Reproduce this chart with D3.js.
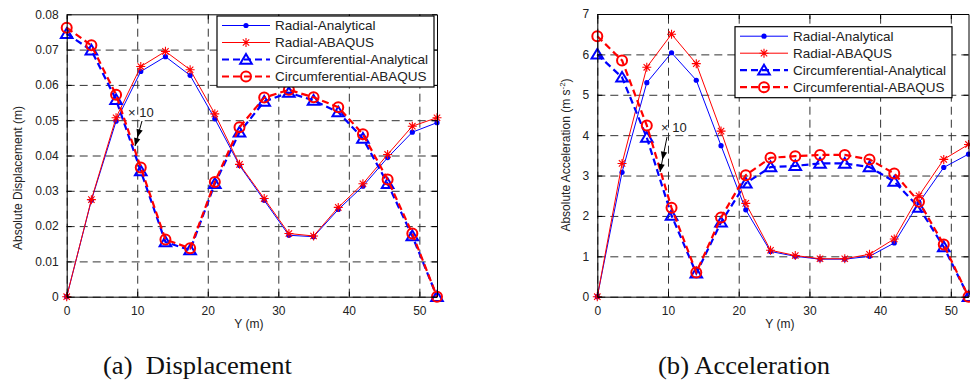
<!DOCTYPE html>
<html>
<head>
<meta charset="utf-8">
<script src="https://cdn.jsdelivr.net/npm/d3@7"></script>
<style>
  body { margin: 0; background: #fff; }
  text { font-family: "Liberation Sans", Arial, sans-serif; }
  text.caption { font-family: "Liberation Serif", "Times New Roman", serif; }
</style>
</head>
<body>
<div id="chart"></div>
<script>
// Y (m) positions, shared by both panels
let yPos = [0, 3.5, 7, 10.5, 14, 17.5, 21, 24.5, 28, 31.5, 35, 38.5, 42, 45.5, 49, 52.5];
let xTicks = [0, 10, 20, 30, 40, 50];

// (a) displacement (m)
let dispRadAna = [0, 0.0273, 0.0497, 0.0638, 0.0680, 0.0627, 0.0504, 0.0372, 0.0273, 0.0174, 0.0170, 0.0247, 0.0313, 0.0394, 0.0466, 0.0493];
let dispRadAbq = [0, 0.0275, 0.0507, 0.0652, 0.0695, 0.0643, 0.0518, 0.0375, 0.0278, 0.0179, 0.0172, 0.0253, 0.0320, 0.0403, 0.0483, 0.0507];
let dispCirAna = [0.0745, 0.0698, 0.0558, 0.0356, 0.0155, 0.0132, 0.0320, 0.0466, 0.0553, 0.0578, 0.0556, 0.0523, 0.0448, 0.0320, 0.0172, 0];
let dispCirAbq = [0.0762, 0.0712, 0.0572, 0.0366, 0.0162, 0.0137, 0.0325, 0.0480, 0.0564, 0.0586, 0.0565, 0.0537, 0.0460, 0.0332, 0.0179, 0];
let dispTicks = [0, 0.01, 0.02, 0.03, 0.04, 0.05, 0.06, 0.07, 0.08];

// (b) acceleration (m s^-2)
let accRadAna = [0, 3.08, 5.30, 6.04, 5.36, 3.74, 2.15, 1.12, 1.00, 0.93, 0.93, 1.00, 1.33, 2.33, 3.20, 3.53];
let accRadAbq = [0, 3.30, 5.68, 6.50, 5.77, 4.10, 2.31, 1.15, 1.02, 0.94, 0.94, 1.05, 1.43, 2.50, 3.40, 3.77];
let accCirAna = [6.00, 5.43, 3.94, 2.01, 0.58, 1.84, 2.81, 3.21, 3.24, 3.30, 3.30, 3.21, 2.85, 2.21, 1.23, 0];
let accCirAbq = [6.45, 5.85, 4.24, 2.20, 0.60, 1.96, 3.01, 3.44, 3.48, 3.51, 3.51, 3.40, 3.05, 2.35, 1.29, 0];
let accTicks = [0, 1, 2, 3, 4, 5, 6, 7];

let seriesNames = ["Radial-Analytical", "Radial-ABAQUS", "Circumferential-Analytical", "Circumferential-ABAQUS"];
let seriesColors = ["#0000ff", "#ff0000", "#0000ff", "#ff0000"];
let seriesMarkers = ["dot", "star", "triangle", "circle"];

let width = 970, height = 381;

let svg = d3.select("#chart")
    .append("svg")
    .attr("width", width)
    .attr("height", height);

function markerPath(type) {
    if (type == "star") {
        let r = 4.5, d = 3.2;
        return "M0," + (-r) + "V" + r + "M" + (-r) + ",0H" + r +
            "M" + (-d) + "," + (-d) + "L" + d + "," + d + "M" + (-d) + "," + d + "L" + d + "," + (-d);
    }
    if (type == "triangle") return "M0,-5.5L5.8,4.2L-5.8,4.2Z";
    return null;
}

function drawMarker(g, type, color, cx, cy) {
    if (type == "dot") {
        g.append("circle").attr("cx", cx).attr("cy", cy).attr("r", 2.6).attr("fill", color);
    } else if (type == "circle") {
        g.append("circle").attr("cx", cx).attr("cy", cy).attr("r", 5)
            .attr("fill", "none").attr("stroke", color).attr("stroke-width", 2);
    } else {
        g.append("path").attr("d", markerPath(type))
            .attr("transform", "translate(" + cx + "," + cy + ")")
            .attr("fill", "none").attr("stroke", color)
            .attr("stroke-width", type == "triangle" ? 2 : 1.1);
    }
}

function drawPanel(p) {
    let x = d3.scaleLinear().domain([0, 52.5]).range([p.left, p.right]);
    let y = d3.scaleLinear().domain(p.yDomain).range([p.bottom, p.top]);
    let w = p.right - p.left, h = p.bottom - p.top;

    // grid
    svg.append("g")
        .attr("transform", "translate(0," + p.bottom + ")")
        .call(d3.axisBottom(x).tickValues(xTicks).tickSize(-h).tickFormat(""))
        .call(g => g.select(".domain").remove())
        .selectAll("line").attr("stroke", "#333").attr("stroke-dasharray", "8,5");
    svg.append("g")
        .attr("transform", "translate(" + p.left + ",0)")
        .call(d3.axisLeft(y).tickValues(p.yTicks.slice(0, -1)).tickSize(-w).tickFormat(""))
        .call(g => g.select(".domain").remove())
        .selectAll("line").attr("stroke", "#333").attr("stroke-dasharray", "8,5");

    // series
    let lists = p.series;
    for (let s = 0; s < lists.length; s++) {
        let data = yPos.map((v, i) => [v, lists[s][i]]);
        let line = d3.line().x(d => x(d[0])).y(d => y(d[1]));
        let path = svg.append("path")
            .datum(data)
            .attr("d", line)
            .attr("fill", "none")
            .attr("stroke", seriesColors[s])
            .attr("stroke-width", s < 2 ? 1 : 2.2);
        if (s >= 2) path.attr("stroke-dasharray", "7,4");
        let mg = svg.append("g");
        data.forEach(d => drawMarker(mg, seriesMarkers[s], seriesColors[s], x(d[0]), y(d[1])));
    }

    // axes with inward ticks on all four sides
    let tickStyle = g => {
        g.selectAll("path.domain").attr("stroke", "#000");
        g.selectAll(".tick line").attr("stroke", "#000");
        g.selectAll("text").attr("font-size", 12).attr("fill", "#222")
            .style("font-family", "'Liberation Sans', Arial, sans-serif");
    };
    svg.append("g").attr("transform", "translate(0," + p.bottom + ")")
        .call(d3.axisBottom(x).tickValues(xTicks).tickSize(-5).tickPadding(10).tickSizeOuter(0))
        .call(tickStyle);
    svg.append("g").attr("transform", "translate(0," + p.top + ")")
        .call(d3.axisTop(x).tickValues(xTicks).tickSize(-5).tickFormat("").tickSizeOuter(0))
        .call(tickStyle);
    svg.append("g").attr("transform", "translate(" + p.left + ",0)")
        .call(d3.axisLeft(y).tickValues(p.yTicks).tickSize(-5).tickPadding(8).tickSizeOuter(0).tickFormat(p.fmt))
        .call(tickStyle);
    svg.append("g").attr("transform", "translate(" + p.right + ",0)")
        .call(d3.axisRight(y).tickValues(p.yTicks).tickSize(-5).tickFormat("").tickSizeOuter(0))
        .call(tickStyle);

    // x label
    svg.append("text")
        .attr("x", (p.left + p.right) / 2 - 3)
        .attr("y", p.bottom + 31)
        .attr("text-anchor", "middle")
        .attr("font-size", 12)
        .attr("fill", "#222")
        .text("Y (m)");

    // y label
    let yl = svg.append("text")
        .attr("transform", "translate(" + p.ylabelX + "," + p.ylabelY + ") rotate(-90)")
        .attr("text-anchor", "middle")
        .attr("font-size", 12)
        .attr("fill", "#222");
    yl.append("tspan").text(p.ylabel);
    if (p.ylabelSup) {
        yl.append("tspan").attr("dy", -5).attr("font-size", 8).text(p.ylabelSup);
        yl.append("tspan").attr("dy", 5).text(")");
    }

    // legend
    let lg = svg.append("g").attr("transform", "translate(" + p.legend[0] + "," + p.legend[1] + ")");
    lg.append("rect").attr("x", 0).attr("y", 0).attr("width", 217).attr("height", 71)
        .attr("fill", "#fff").attr("stroke", "#000").attr("stroke-width", 1.2);
    seriesNames.forEach((name, i) => {
        let ry = 9.5 + i * 17;
        let ln = lg.append("line").attr("x1", 5).attr("x2", 53).attr("y1", ry).attr("y2", ry)
            .attr("stroke", seriesColors[i]).attr("stroke-width", i < 2 ? 1 : 2.2);
        if (i >= 2) ln.attr("stroke-dasharray", "7,4");
        drawMarker(lg, seriesMarkers[i], seriesColors[i], 29, ry);
        lg.append("text").attr("x", 58).attr("y", ry + 4.5)
            .attr("font-size", 13.5).attr("fill", "#222").text(name);
    });

    // "x 10" note with arrow
    svg.append("text").attr("x", p.note[0]).attr("y", p.note[1])
        .attr("font-size", 13).attr("fill", "#222").text("\u00d7 10");
    let a = p.arrow;
    svg.append("line").attr("x1", a[0]).attr("y1", a[1]).attr("x2", a[2]).attr("y2", a[3])
        .attr("stroke", "#000").attr("stroke-width", 1);
    [0.65, 1].forEach(t => {
        let hx = a[0] + (a[2] - a[0]) * t, hy = a[1] + (a[3] - a[1]) * t;
        let ang = Math.atan2(a[3] - a[1], a[2] - a[0]) * 180 / Math.PI;
        svg.append("path").attr("d", "M0,0L-8,-3.2L-8,3.2Z")
            .attr("transform", "translate(" + hx + "," + hy + ") rotate(" + ang + ")")
            .attr("fill", "#000");
    });

    // caption
    svg.append("text").attr("class", "caption")
        .attr("x", p.caption[0]).attr("y", 374)
        .attr("font-size", 26).attr("fill", "#111")
        .attr("textLength", p.caption[2]).attr("lengthAdjust", "spacingAndGlyphs")
        .style("white-space", "pre")
        .text(p.caption[1]);
}

drawPanel({
    left: 66.7, right: 437, top: 14.3, bottom: 296.7,
    yDomain: [0, 0.08], yTicks: dispTicks,
    fmt: d => d == 0 ? "0" : d3.format(".2f")(d),
    series: [dispRadAna, dispRadAbq, dispCirAna, dispCirAbq],
    ylabel: "Absolute Displacement (m)", ylabelX: 22, ylabelY: 178,
    legend: [217, 16],
    note: [128, 117], arrow: [142, 121, 135, 146],
    caption: [103, "(a)  Displacement", 189]
});

drawPanel({
    left: 597.3, right: 968.5, top: 14, bottom: 296.7,
    yDomain: [0, 7], yTicks: accTicks,
    fmt: d => d,
    series: [accRadAna, accRadAbq, accCirAna, accCirAbq],
    ylabel: "Absolute Acceleration (m s", ylabelSup: "-2", ylabelX: 570, ylabelY: 155,
    legend: [735, 26.7],
    note: [661, 132], arrow: [667, 137, 660, 172],
    caption: [658, "(b) Acceleration", 172]
});
</script>
</body>
</html>
